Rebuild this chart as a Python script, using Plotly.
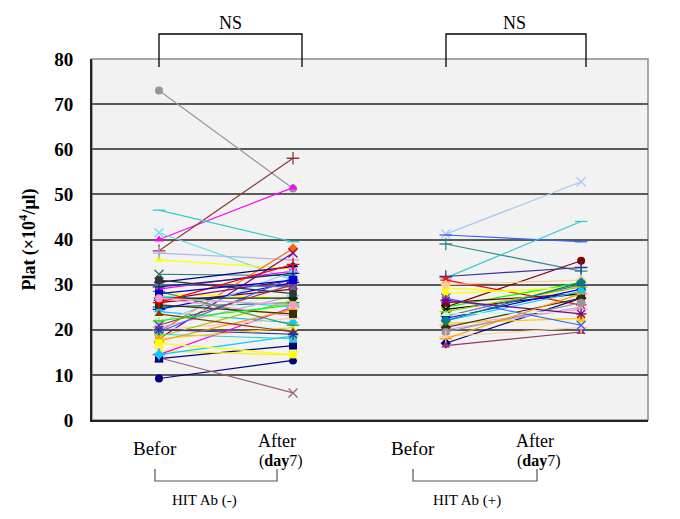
import plotly.graph_objects as go

# ---------------- data ----------------
categories = ["Befor", "After (day7)", "Befor", "After (day7)"]
groups = ["HIT Ab (-)", "HIT Ab (+)"]
y_ticks = [0, 10, 20, 30, 40, 50, 60, 70, 80]

g1_before = [73, 40, 37.5, 46.5, 41.5, 35.5, 37, 32.3, 9.2, 13.8, 13.6, 15.3, 19.5, 18, 14.5, 14.5,
             30.5, 29, 28, 27.5, 26.5, 26, 25, 24.5, 24, 23, 22.5, 22, 21.5, 27, 20.5, 20,
             19.5, 19, 18.5, 18, 17.5, 30, 29.5, 28.5, 27, 25.5, 23.5, 21, 20, 31, 26, 22,
             28, 17, 27]
g1_after = [51.3, 51.5, 58, 39.5, 31, 33.5, 35.5, 32, 13.2, 6, 16.5, 14.4, 38, 37, 25, 18.6,
            34, 33, 27, 25, 31, 29, 26, 30.5, 21.5, 20, 28, 24, 33, 23, 27.5, 22.5,
            31.5, 18, 26.5, 20.5, 24.5, 29.5, 32.5, 21, 27, 23.5, 19.5, 30, 19, 28, 34.5, 25.5,
            31, 14.5, 25.5]

g2_before = [41.2, 41, 39, 31.5, 25, 31.8, 31, 29.3, 30, 25, 28, 26, 24.5, 17, 16.5,
             23, 22.5, 22, 21, 20, 21.5, 20.5, 19.5, 18.5, 23.5, 24, 27, 26.5, 18, 22]
g2_after = [52.8, 39.5, 33, 44, 35.3, 33.8, 25.5, 27.5, 31, 30.5, 29.5, 28, 28, 27, 19.5,
            30, 29, 28.5, 24.5, 25, 22.5, 27, 26, 20.5, 24, 29.5, 21, 23.5, 28, 30.5]

# x-positions of the four time points on the numeric axis
x_pos = [1, 2, 3.14, 4.15]

# ---------------- styles ----------------
g1_colors = ["#969696", "#FF00FF", "#8B3A3A", "#33CCCC", "#66E0E0", "#FFFF00", "#A9B8E8", "#1F6F6F",
             "#000080", "#A0607A", "#000080", "#F5F500", "#FF6600", "#800080", "#FF00FF", "#00CCFF",
             "#000080", "#FF00FF", "#FFFF00", "#00FFFF", "#800080", "#800000", "#008080", "#0000FF",
             "#00CCFF", "#CCFFFF", "#CCFFCC", "#FFFF99", "#99CCFF", "#FF99CC", "#CC99FF", "#FFCC99",
             "#3366FF", "#33CCCC", "#99CC00", "#FFCC00", "#FF9900", "#666699", "#003366", "#339966",
             "#003300", "#333300", "#993300", "#993366", "#333399", "#333333", "#FF0000", "#00FF00",
             "#0000CC", "#FFFF00", "#FF99CC"]
g1_symbols = ["circle", "triangle-up", "cross-thin-open", "line-ew-open", "x-thin-open", "triangle-up",
              "cross-thin-open", "x-thin-open", "circle", "x-thin-open", "square", "x-thin-open",
              "diamond", "x-thin-open", "cross-thin-open", "diamond",
              "diamond", "square", "triangle-up", "x-thin-open", "asterisk-open", "circle",
              "cross-thin-open", "line-ew-open", "diamond", "square", "triangle-up", "x-thin-open",
              "asterisk-open", "circle", "cross-thin-open", "line-ew-open", "diamond", "square",
              "triangle-up", "x-thin-open", "asterisk-open", "circle", "cross-thin-open",
              "line-ew-open", "diamond", "square", "triangle-up", "x-thin-open", "asterisk-open",
              "circle", "cross-thin-open", "line-ew-open", "square", "circle", "circle"]

g2_colors = ["#A8C8F0", "#3366FF", "#2E8B8B", "#33CCCC", "#800000", "#333399", "#FF0000", "#FFFF00",
             "#FFCC99", "#00FF00", "#FFFF00", "#800000", "#000000", "#000080", "#993366", "#666699",
             "#0000FF", "#00CCFF", "#FF99CC", "#CC99FF", "#FFCC00", "#333300", "#969696", "#FFCC99",
             "#CCFFCC", "#99CC00", "#3366FF", "#800080", "#FF9900", "#008080"]
g2_symbols = ["x-thin-open", "line-ew-open", "cross-thin-open", "line-ew-open", "circle", "cross-thin-open",
              "asterisk-open", "circle", "diamond", "triangle-up", "diamond", "square", "x-thin-open",
              "diamond", "triangle-up", "asterisk-open", "square", "circle", "cross-thin-open",
              "x-thin-open", "square", "diamond", "circle", "cross-thin-open", "triangle-up",
              "line-ew-open", "x-thin-open", "asterisk-open", "line-ew-open", "diamond"]

fig = go.Figure()


def add_group(before, after, colors, symbols, xb, xa):
    for i, (b, a) in enumerate(zip(before, after)):
        c = colors[i % len(colors)]
        s = symbols[i % len(symbols)]
        open_sym = s.endswith("-open")
        fig.add_trace(go.Scatter(
            x=[xb, xa], y=[b, a], mode="lines+markers",
            line=dict(color=c, width=1.2),
            marker=dict(symbol=s, size=8 if not open_sym else 9, color=c,
                        line=dict(color=c, width=1.3 if open_sym else 0)),
            showlegend=False, hoverinfo="y"))


add_group(g1_before, g1_after, g1_colors, g1_symbols, x_pos[0], x_pos[1])
add_group(g2_before, g2_after, g2_colors, g2_symbols, x_pos[2], x_pos[3])

# page has an 8px body margin; compensate so plot area lands at screen 92..648 x 59..420
OFF = 8
SL, SR, ST, SB = 92, 648, 59, 420          # screen coords of plot area
W, H = 680 - OFF, 519 - OFF
L, T = SL - OFF, ST - OFF
R, B = W + OFF - SR, H + OFF - SB
pw, ph = SR - SL, SB - ST


def px(xp):
    return (xp - SL) / pw


def py(yp):
    return (SB - yp) / ph


serif = "Liberation Serif"
shapes = []
# plot border (top/right grey)
shapes.append(dict(type="rect", xref="paper", yref="paper", x0=0, x1=1, y0=0, y1=1,
                   line=dict(color="#8c8c8c", width=1.5), layer="below"))
# NS brackets
for x0, x1 in [(159, 302), (446, 586)]:
    shapes.append(dict(type="path", xref="paper", yref="paper",
                       path=f"M {px(x0)},{py(67)} L {px(x0)},{py(34)} L {px(x1)},{py(34)} L {px(x1)},{py(67)}",
                       line=dict(color="black", width=1.3)))
# bottom group brackets
for x0, x1 in [(155, 277), (413, 537)]:
    shapes.append(dict(type="path", xref="paper", yref="paper",
                       path=f"M {px(x0)},{py(469)} L {px(x0)},{py(481)} L {px(x1)},{py(481)} L {px(x1)},{py(469)}",
                       line=dict(color="#555555", width=1.2)))

annotations = []


def label(text, xc, yc, size):
    annotations.append(dict(text=text, xref="paper", yref="paper", x=px(xc), y=py(yc),
                            xanchor="center", yanchor="middle", showarrow=False,
                            font=dict(family=serif, size=size, color="black")))


for xc in [230, 514]:
    label("NS", xc, 23, 18)
for xb, xa in [(155, 277), (413, 535)]:
    label(categories[0], xb, 448, 19)
    label("After", xa, 441, 18)
    label("(<b>day</b>7)", xa + 4, 461, 16)
for xc, g in zip([204, 467], groups):
    label(g, xc, 500, 15)

fig.update_layout(
    width=W, height=H,
    margin=dict(l=L, r=R, t=T, b=B),
    paper_bgcolor="white", plot_bgcolor="#f2f2f2",
    showlegend=False,
    shapes=shapes, annotations=annotations,
    xaxis=dict(range=[0.5, 4.649], showgrid=False, zeroline=False, showticklabels=False,
               showline=True, linecolor="#222222", linewidth=2, ticks=""),
    yaxis=dict(range=[0, 80], tickvals=y_ticks, showgrid=True, gridcolor="#5a5a5a", gridwidth=1.6,
               zeroline=False, showline=True, linecolor="#222222", linewidth=2, ticks="",
               tickfont=dict(family=serif, size=19, color="black", weight="bold"), ticklabelstandoff=13,
               title=dict(text="<b>Plat (×10<sup>4</sup>/μl)</b>", font=dict(family=serif, size=18, color="black"),
                          standoff=14)),
)

fig.write_html("out.html")
